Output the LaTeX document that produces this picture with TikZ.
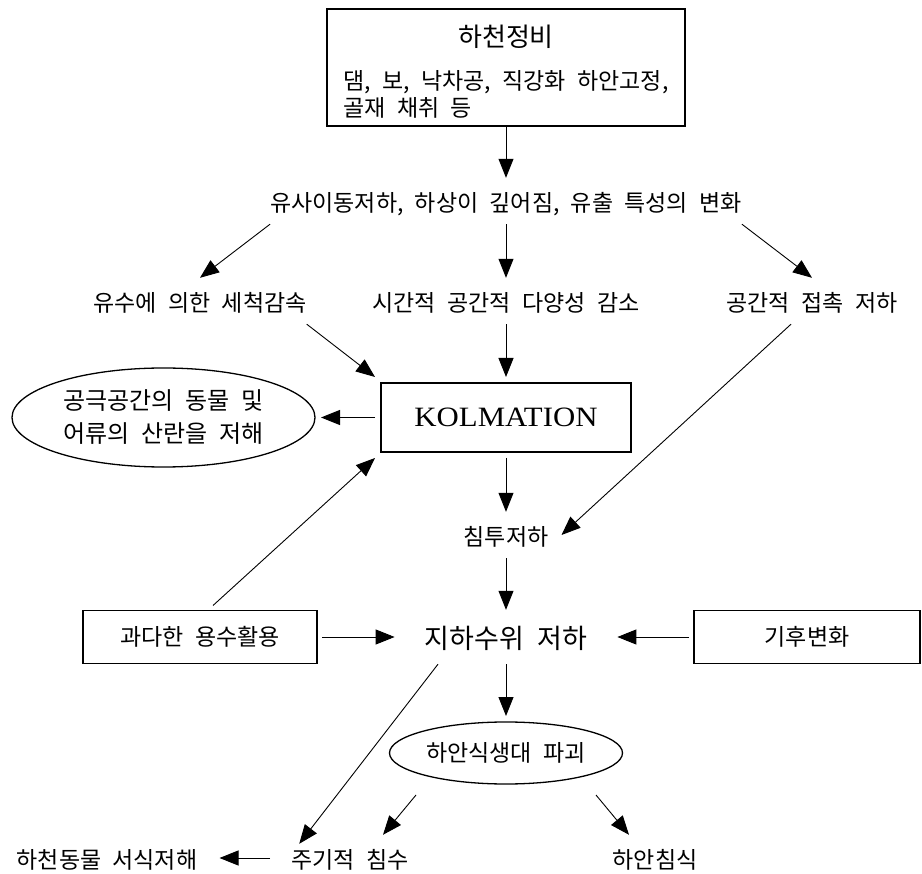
\documentclass[tikz,border=0pt]{standalone}
\usepackage{fontspec}
\setmainfont{Noto Sans CJK KR}[WordSpace=2.2]
\newfontfamily\romana{Liberation Serif}[FakeStretch=1.1]
\usepackage{tikz}
\usetikzlibrary{arrows.meta, positioning, shapes.geometric}

\begin{document}
\begin{tikzpicture}[x=1pt, y=-1pt,
      caja/.style={draw, line width=1.4pt, outer sep=5pt, inner sep=0pt,
                   font=\fontsize{23}{25}\selectfont},
      texto/.style={inner sep=0pt, text height=33.7pt, text depth=12.3pt,
                    font=\fontsize{23}{25}\selectfont},
      grande/.style={inner sep=0pt, text height=38.3pt, text depth=15.7pt,
                     font=\fontsize{27}{30}\selectfont},
      elipse/.style={draw, ellipse, line width=1.3pt, inner sep=0pt, outer sep=6pt,
                     align=center, font=\fontsize{23}{25}\selectfont},
      flecha/.style={-{Triangle[length=19pt, width=15pt]}, line width=0.9pt}]
    \useasboundingbox (0,0) rectangle (922,874);
    \node[caja, outer sep=0pt, minimum width=358pt, minimum height=117pt] (jeongbi) at (506,67.5)
      {\begin{tabular}{@{}l@{}}\multicolumn{1}{@{}c@{}}{\rule{0pt}{35pt}\fontsize{26}{30}\selectfont 하천정비}\\[17pt]
       댐, 보, 낙차공, 직강화 하안고정,\\ 골재 채취 등\end{tabular}};
    \node[texto] (byeonhwa) at (506,201) {유사이동저하, 하상이 깊어짐, 유출 특성의 변화};
    \node[texto] (yusu) at (200,301) {유수에 의한 세척감속};
    \node[texto] (dayang) at (506,301) {시간적 공간적 다양성 감소};
    \node[texto] (jeopchok) at (812,301) {공간적 접촉 저하};
    \node[caja, outer sep=6pt, minimum width=250pt, minimum height=69pt,
          font=\romana\fontsize{28}{30}\selectfont] (kolmation) at (506,417.5) {KOLMATION};
    \node[elipse, minimum width=303pt, minimum height=99pt, font=\fontsize{24}{33}\selectfont]
      (gongguk) at (163.5,417.5) {공극공간의 동물 및\\어류의 산란을 저해};
    \node[texto, inner xsep=13pt] (chimtu) at (506,535) {침투저하};
    \node[grande, inner xsep=30pt] (jiha) at (506,637) {지하수위 저하};
    \node[caja, minimum width=234pt, minimum height=53pt] (gwada) at (200,637) {과다한 용수활용};
    \node[caja, minimum width=226pt, minimum height=53pt] (gihu) at (807,637) {기후변화};
    \node[elipse, minimum width=233pt, minimum height=62pt] (sikseng) at (506,753) {하안식생대 파괴};
    \node[texto, inner xsep=22pt] (hacheon) at (107,858) {하천동물 서식저해};
    \node[texto, inner xsep=21pt] (jugi) at (350,858) {주기적 침수};
    \node[texto] (chimsik) at (655,858) {하안침식};
    \draw[flecha] (jeongbi.south) -- (byeonhwa.north);
    \draw[flecha] (byeonhwa.south west) -- (yusu.north);
    \draw[flecha] (byeonhwa.south) -- (dayang.north);
    \draw[flecha] (byeonhwa.south east) -- (jeopchok.north);
    \draw[flecha] (yusu.south east) -- (kolmation.north west);
    \draw[flecha] (dayang.south) -- (kolmation.north);
    \draw[flecha] (kolmation.west) -- (gongguk.east);
    \draw[flecha] ([xshift=-21pt]jeopchok.south) -- (chimtu.east);
    \draw[flecha] (kolmation.south) -- (chimtu.north);
    \draw[flecha] (chimtu.south) -- (jiha.north);
    \draw[flecha] ([xshift=13pt]gwada.north) -- (kolmation.south west);
    \draw[flecha] (gwada.east) -- (jiha.west);
    \draw[flecha] (gihu.west) -- (jiha.east);
    \draw[flecha] (jiha.south) -- (sikseng.north);
    \draw[flecha] ([xshift=-68pt]jiha.south) -- ([shift={(29pt,-9pt)}]jugi.north west);
    \draw[flecha] ([shift={(-90pt,-5pt)}]sikseng.south) -- ([xshift=33pt]jugi.north);
    \draw[flecha] ([shift={(90pt,-5pt)}]sikseng.south) -- ([xshift=-26pt]chimsik.north);
    \draw[flecha] (jugi.west) -- (hacheon.east);
  \end{tikzpicture}
\end{document}
